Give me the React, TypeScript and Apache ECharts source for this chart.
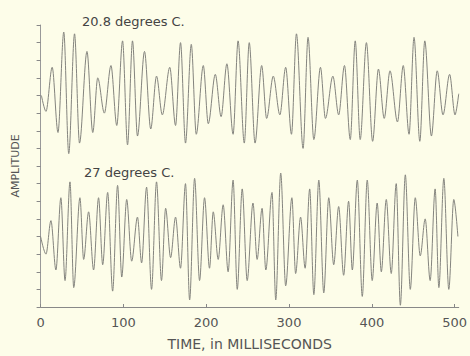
import React, { useEffect, useRef } from "react";
import * as echarts from "echarts";

const xTicks = [0, 100, 200, 300, 400, 500];

const timeTop = [1,6.5,14,21,28,34,41,47,56,63,69,77,85,92,99,105,111,117,125.5,133,140,147,156,163,169,175,182,188,196.5,202.5,211,218,225,232.5,238.5,246,252,259,267,273,281,289,296,303,309,317,323,330,338,344,353,360,367,374,380,386,393.5,401,408,415,422,431,438,445,451,458,464,472,479,486,494,500.5,505];
const ampTop = [12.0,11.1,13.6,9.9,15.6,8.7,15.5,9.3,14.5,9.9,13.0,11.0,13.7,10.3,15.1,9.2,15.1,9.7,14.5,10.1,13.1,10.9,13.6,10.3,15.0,9.3,14.9,9.8,13.7,10.4,13.2,10.8,13.8,9.8,15.1,9.3,15.0,9.3,13.7,10.7,13.1,10.9,13.6,9.8,15.5,9.0,15.3,9.5,13.6,10.7,13.1,10.9,13.7,9.5,15.1,9.5,15.0,9.4,13.5,10.7,13.4,10.5,13.7,9.8,15.3,9.4,15.1,9.7,13.4,10.9,13.2,10.9,12.1];

const timeBottom = [0,6.5,12.5,18.5,24.5,29.5,35.5,40,47.5,52,58,64,70,75,81,87,93,98,104,110,117,122,128,134,140,146,151,157,163,169,175,180,186,192,198,204,208.5,214.5,220.5,226.5,232.5,237.5,243.5,249.5,256.5,261.5,267.5,272,279.5,284,290,296,303.5,308,314,319.5,325,330,336,342,348,354,360,366,372,376.5,382.5,388.5,394.5,400.5,406.5,411.5,417.5,423.5,429.5,434.5,440.5,446.5,452.5,458.5,464.5,470.5,476.5,481,487,493,499,504];
const ampBottom = [4.0,3.0,4.9,2.1,6.2,1.5,7.1,1.1,6.2,2.7,5.4,2.1,6.2,2.4,6.5,0.9,6.9,1.7,6.1,2.6,5.1,2.5,6.8,1.0,7.1,1.5,5.6,2.8,5.1,2.2,7.0,0.4,7.3,1.5,6.2,2.2,5.4,2.7,5.8,2.0,7.2,1.0,6.7,1.5,5.9,2.7,5.6,2.1,6.5,0.4,7.6,1.2,6.2,1.9,5.1,2.2,6.7,0.7,7.2,0.8,6.2,2.4,5.7,1.8,6.0,2.1,7.2,0.6,7.2,1.5,5.9,2.0,6.1,1.9,7.0,0.1,7.5,1.0,6.2,2.9,5.0,1.5,6.7,1.1,7.3,1.0,6.1,4.0];

const labelTop = "20.8 degrees C.";
const labelBottom = "27 degrees C.";

export default function App() {
  const ref = useRef<HTMLDivElement>(null);
  useEffect(() => {
    if (!ref.current) return;
    const chart = echarts.init(ref.current, null, { renderer: "svg" });
    const font = "'DejaVu Sans', sans-serif";
    const lineStyle = { color: "#84847e", width: 1 };
    chart.setOption({
      animation: false,
      backgroundColor: "#fdfde9",
      grid: { left: 40.6, right: 9, top: 25, bottom: 41 },
      xAxis: {
        type: "value",
        min: 0,
        max: 505,
        interval: 100,
        splitLine: { show: false },
        axisLine: { lineStyle: { color: "#888", width: 1 } },
        axisTick: { inside: true, length: 3, lineStyle: { color: "#888" }, customValues: xTicks },
        axisLabel: {
          color: "#555",
          fontSize: 13,
          fontFamily: font,
          margin: 9,
          customValues: xTicks,
        },
        name: "TIME, in MILLISECONDS",
        nameLocation: "middle",
        nameGap: 30,
        nameTextStyle: { color: "#555", fontSize: 14, fontFamily: font },
      },
      yAxis: {
        type: "value",
        min: 0,
        max: 16,
        interval: 1,
        splitLine: { show: false },
        axisLine: { show: true, lineStyle: { color: "#999", width: 1 } },
        axisTick: { show: true, length: 4, lineStyle: { color: "#888" } },
        axisLabel: { show: false },
        name: "AMPLITUDE",
        nameLocation: "middle",
        nameGap: 20,
        nameTextStyle: { color: "#555", fontSize: 11, fontFamily: font },
      },
      graphic: [
        { type: "text", left: 82, top: 15, style: { text: labelTop, fill: "#444", font: `13px ${font}` } },
        { type: "text", left: 84, top: 166, style: { text: labelBottom, fill: "#444", font: `13px ${font}` } },
      ],
      series: [
        {
          type: "line",
          data: timeTop.map((t, i) => [t, ampTop[i]]),
          showSymbol: false,
          smooth: 0.32,
          smoothMonotone: "x",
          lineStyle,
          silent: true,
        },
        {
          type: "line",
          data: timeBottom.map((t, i) => [t, ampBottom[i]]),
          showSymbol: false,
          smooth: 0.32,
          smoothMonotone: "x",
          lineStyle,
          silent: true,
        },
      ],
    });
    return () => chart.dispose();
  }, []);
  return (
    <div
      ref={ref}
      style={{ position: "fixed", left: 0, top: 0, width: 470, height: 356, background: "#fdfde9" }}
    />
  );
}
